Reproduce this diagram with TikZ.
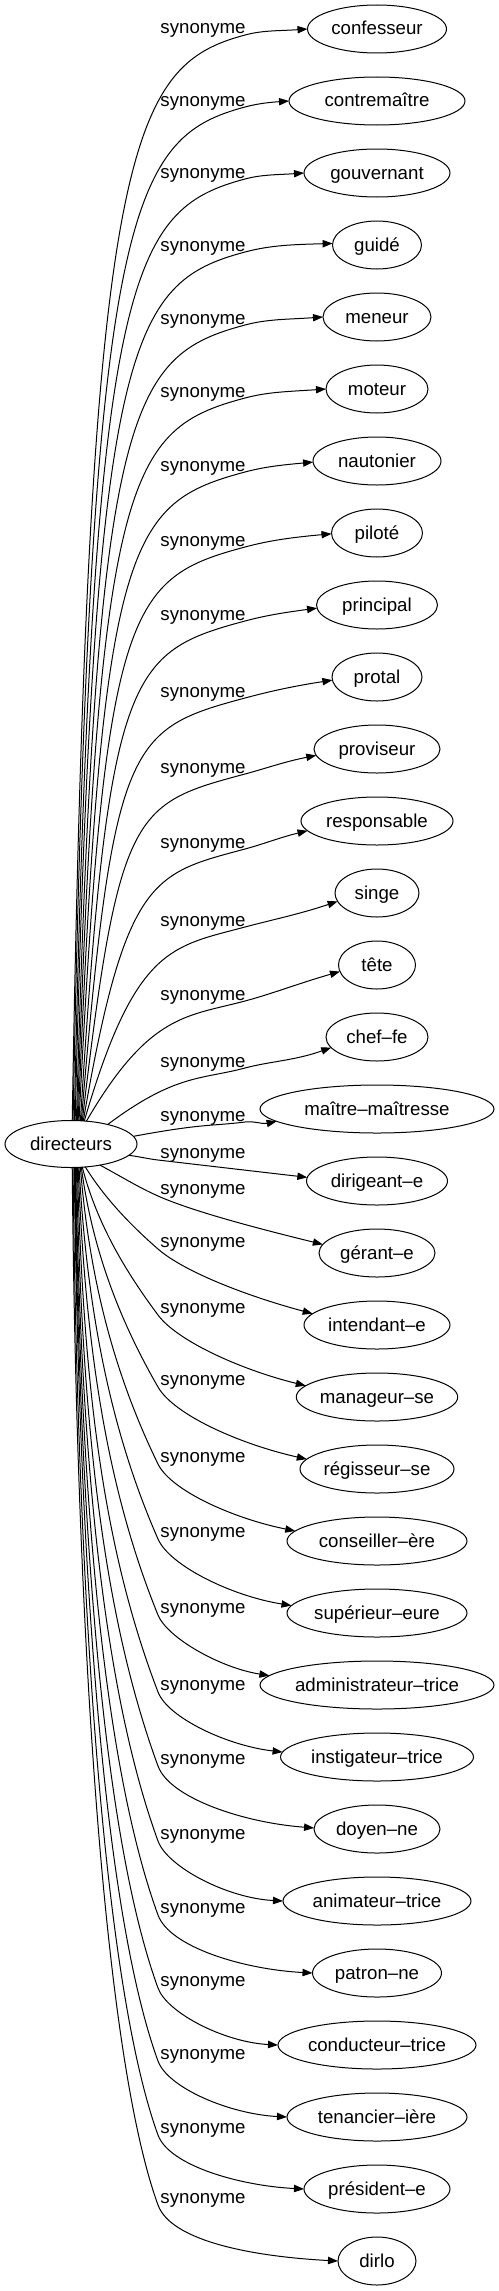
\documentclass[tikz,border=0pt]{standalone}
\usepackage{fontspec}
\setmainfont{Liberation Sans}
\usetikzlibrary{arrows.meta,shapes.geometric,calc}
\begin{document}
\begin{tikzpicture}[x=0.75pt,y=-0.75pt,
  word/.style={ellipse, draw, line width=0.75pt, inner sep=0pt, outer sep=0pt,
    minimum height=36pt, font=\fontsize{14pt}{16pt}\selectfont,
    text height=11pt, text depth=2pt},
  lbl/.style={inner sep=0pt, font=\fontsize{14pt}{16pt}\selectfont,
    text height=11pt, text depth=2pt},
  syn/.style={line width=0.75pt, -{Triangle[length=7.5pt,width=5.5pt]}}]
\useasboundingbox (0,0) rectangle (499,2291);
\node[word, minimum width=99pt, minimum height=35.25pt] (d) at (71,1144) {directeurs};
% upper edges
\foreach \i/\L/\rx/\txt/\ox/\te in {
 0/29/69.5/confesseur/1/180,
 1/101/88/contremaître/2/180,
 2/173/73/gouvernant/3/180,
 3/246/44.5/guidé/4/178,
 4/319/54/meneur/5/180,
 5/392/51/moteur/6/180,
 6/466/64/nautonier/7/181,
 7/541/45.5/piloté/8/181,
 8/615/60.5/principal/9/183,
 9/692/45/protal/10/184,
 10/768/63/proviseur/11/186,
 11/843/76/responsable/12/188,
 12/921/42/singe/13/192,
 13/995/38.5/tête/15/190,
 14/1062/51/chef–fe/36/193,
 15/1116/117/maître–maîtresse/62/187}{
  \pgfmathsetmacro\ny{29+72*\i}
  \pgfmathsetmacro\mw{1.5*\rx}
  \node[word, minimum width=\mw pt] (t\i) at (377,\ny) {\txt};
  \node[lbl] (l\i) at (203,\L-1) {synonyme};
  \pgfmathsetmacro\sq{sqrt(1-(\ox/66)^2)}
  \pgfmathsetmacro\Sx{71+\ox}
  \pgfmathsetmacro\Sy{1144-23.5*\sq}
  \pgfmathsetmacro\ths{atan2(23.5*\sq,\ox)}
  \pgfmathsetmacro\Wx{245}
  \pgfmathsetmacro\Wy{\L+6}
  \pgfmathsetmacro\dx{\Wx-\Sx}
  \pgfmathsetmacro\dy{\Sy-\Wy}
  \pgfmathsetmacro\q{0.7*\dx*(\dx/(\dx+\dy))}
  \pgfmathsetmacro\al{min(15,atan(\dy/\dx))}
  \pgfmathsetmacro\ch{100*veclen(\dx/100,\dy/100)}
  \pgfmathsetmacro\bb{min(120,0.3*\ch)}
  \pgfmathsetmacro\rr{\rx*24/veclen(24*cos(\te),\rx*sin(\te))}
  \pgfmathsetmacro\Tx{377+\rr*cos(\te)}
  \pgfmathsetmacro\Ty{\ny-\rr*sin(\te)}
  \pgfmathsetmacro\len{\Tx-\Wx}
  \pgfmathsetmacro\be{4+1.2*(\te-180)}
  \coordinate (w\i) at (\Wx,\Wy);
  \draw[syn] (d.\ths) .. controls (\Sx+\q,\Sy-0.9*\dy) and ({\Wx-\bb*cos(\al)},{\Wy+\bb*sin(\al)}) .. (w\i)
     .. controls ({\Wx+0.3*\len*cos(\al)},{\Wy-0.3*\len*sin(\al)}) and ({\Tx-0.45*\len*cos(\be)},{\Ty+0.45*\len*sin(\be)}) .. (t\i.\te);
}
% lower edges
\foreach \i/\L/\rx/\txt/\ox/\te in {
 16/1153/70.5/dirigeant–e/57/177,
 17/1189/58/gérant–e/29/171,
 18/1242/73/intendant–e/14/170,
 19/1308/80/manageur–se/11/171,
 20/1380/77/régisseur–se/10/172,
 21/1457/90/conseiller–ère/9/173,
 22/1532/90/supérieur–eure/8/175,
 23/1608/117/administrateur–trice/7/175,
 24/1685/96.5/instigateur–trice/6/177,
 25/1759/63/doyen–ne/5/179,
 26/1834/94/animateur–trice/4.5/180,
 27/1908/64.5/patron–ne/4/180,
 28/1981/99/conducteur–trice/3.5/180,
 29/2054/90/tenancier–ière/3/180,
 30/2128/73/président–e/2/180,
 31/2198/39/dirlo/1/180}{
  \pgfmathsetmacro\ny{29+72*\i}
  \pgfmathsetmacro\mw{1.5*\rx}
  \node[word, minimum width=\mw pt] (t\i) at (377,\ny) {\txt};
  \node[lbl] (l\i) at (203,\L-1) {synonyme};
  \pgfmathsetmacro\sq{sqrt(1-(\ox/66)^2)}
  \pgfmathsetmacro\Sx{71+\ox}
  \pgfmathsetmacro\Sy{1144+23.5*\sq}
  \pgfmathsetmacro\ths{atan2(-23.5*\sq,\ox)}
  \pgfmathsetmacro\Wx{158}
  \pgfmathsetmacro\Wy{\L+7}
  \pgfmathsetmacro\dx{\Wx-\Sx}
  \pgfmathsetmacro\dy{\Wy-\Sy}
  \pgfmathsetmacro\q{0.6*\dx*(\dx/(\dx+\dy))}
  \pgfmathsetmacro\de{min(70,0.85*atan(\dy/\dx))}
  \pgfmathsetmacro\ch{100*veclen(\dx/100,\dy/100)}
  \pgfmathsetmacro\bb{min(170,0.3*\ch)}
  \pgfmathsetmacro\rr{\rx*24/veclen(24*cos(\te),\rx*sin(\te))}
  \pgfmathsetmacro\Tx{377+\rr*cos(\te)}
  \pgfmathsetmacro\Ty{\ny-\rr*sin(\te)}
  \pgfmathsetmacro\len{\Tx-\Wx}
  \pgfmathsetmacro\be{3+1.2*(180-\te)}
  \coordinate (w\i) at (\Wx,\Wy);
  \draw[syn] (d.\ths) .. controls (\Sx+\q,\Sy+0.4*\dy) and ({\Wx-\bb*cos(\de)},{\Wy-\bb*sin(\de)}) .. (w\i)
     .. controls ({\Wx+0.22*\len*cos(\de)},{\Wy+0.22*\len*sin(\de)}) and ({\Tx-0.45*\len*cos(\be)},{\Ty-0.45*\len*sin(\be)}) .. (t\i.\te);
}
\end{tikzpicture}
\end{document}
